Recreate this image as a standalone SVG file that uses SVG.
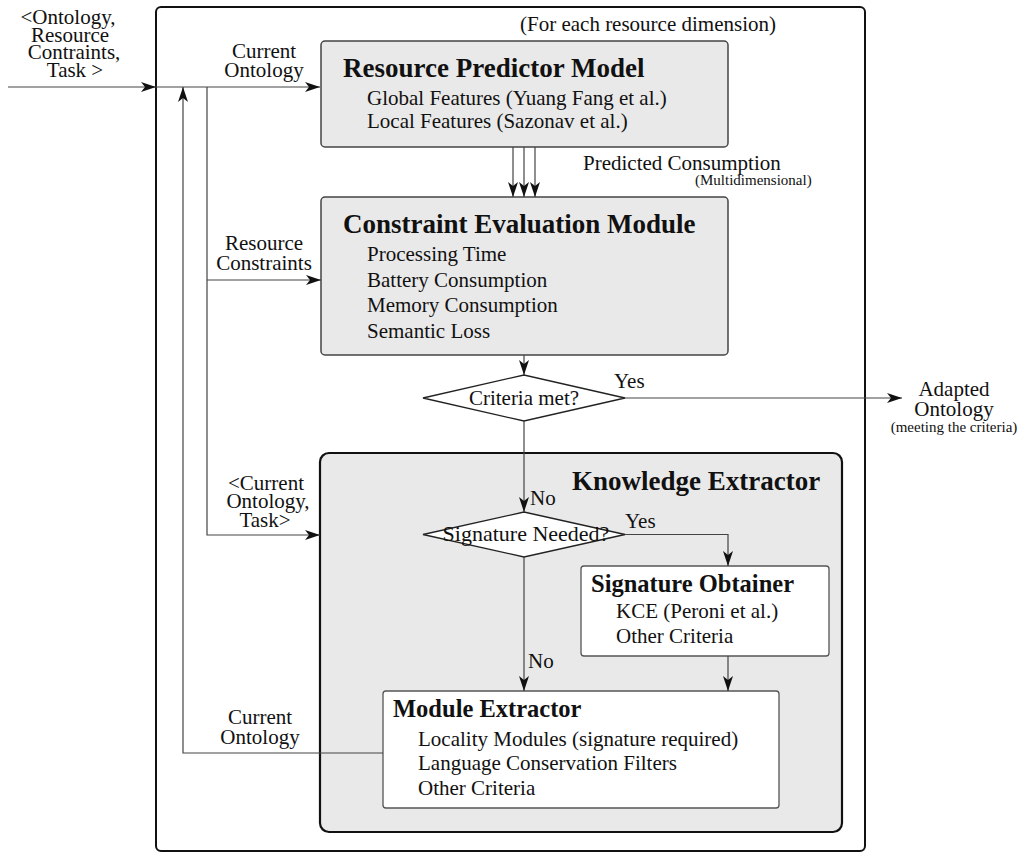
<svg xmlns="http://www.w3.org/2000/svg" width="1023" height="857" viewBox="0 0 1023 857">
<style>
text{font-family:"Liberation Serif","Times New Roman","DejaVu Serif",serif;fill:#111}
.t{font-size:21px}
.b{font-weight:bold;font-size:27px}
.sb{font-weight:bold;font-size:24.5px}
.s{font-size:15px}
.lbl{font-size:21px;text-anchor:middle}
.box{fill:#e9e9e9;stroke:#444;stroke-width:1.5}
.wbox{fill:#fff;stroke:#555;stroke-width:1.3}
.big{fill:#fff;stroke:#111;stroke-width:2}
.ke{fill:#e9e9e9;stroke:#111;stroke-width:2.2}
.dia{fill:#fff;stroke:#222;stroke-width:1.3}
.c{fill:none;stroke:#444;stroke-width:1.2}
.a{marker-end:url(#ah)}
</style>
<defs>
<marker id="ah" markerUnits="userSpaceOnUse" markerWidth="16" markerHeight="12" refX="15" refY="5" orient="auto">
<path d="M0,0 L15,5 L0,10 L4,5 z" fill="#111"/>
</marker>
</defs>
<g id="outer"><rect class="big" x="156" y="7" width="709" height="844" rx="5"/></g>
<text class="t" x="520" y="31">(For each resource dimension)</text>
<g id="rpm">
<rect class="box" x="321" y="41" width="407" height="106" rx="4"/>
<text class="b" x="343" y="77">Resource Predictor Model</text>
<text class="t" x="367" y="105">Global Features (Yuang Fang et al.)</text>
<text class="t" x="367" y="128">Local Features (Sazonav et al.)</text>
</g>
<g id="cem">
<rect class="box" x="321" y="197" width="407" height="158" rx="4"/>
<text class="b" x="343" y="233">Constraint Evaluation Module</text>
<text class="t" x="367" y="261">Processing Time</text>
<text class="t" x="367" y="287">Battery Consumption</text>
<text class="t" x="367" y="312">Memory Consumption</text>
<text class="t" x="367" y="338">Semantic Loss</text>
</g>
<g id="criteria">
<polygon class="dia" points="423,398 524,375 625,398 524,421"/>
<text class="t" x="524" y="405" text-anchor="middle">Criteria met?</text>
</g>
<g id="ke">
<rect class="ke" x="320" y="453" width="522" height="379" rx="9"/>
<text class="b" x="572" y="490">Knowledge Extractor</text>
</g>
<g id="signeeded">
<polygon class="dia" points="423,534.5 524,512 625,534.5 524,557"/>
<text x="526" y="541" text-anchor="middle" style="font-size:22px">Signature Needed?</text>
</g>
<g id="so">
<rect class="wbox" x="581" y="566" width="248" height="90" rx="3"/>
<text class="sb" x="591" y="592">Signature Obtainer</text>
<text class="t" x="616" y="618">KCE (Peroni et al.)</text>
<text class="t" x="616" y="643">Other Criteria</text>
</g>
<g id="me">
<rect class="wbox" x="383" y="691" width="396" height="117" rx="3"/>
<text class="sb" x="393" y="717">Module Extractor</text>
<text class="t" x="418" y="746">Locality Modules (signature required)</text>
<text class="t" x="418" y="770">Language Conservation Filters</text>
<text class="t" x="418" y="795">Other Criteria</text>
</g>
<g id="connectors">
<path class="c a" d="M8,87 H156"/>
<path class="c a" d="M156,87 H320"/>
<path class="c a" d="M383,753 H183 V87"/>
<path class="c a" d="M207,87 V535 H320"/>
<path class="c a" d="M207,280 H321"/>
<path class="c a" d="M513,147 V197"/>
<path class="c a" d="M524,147 V197"/>
<path class="c a" d="M535,147 V197"/>
<path class="c a" d="M524,355 V375"/>
<path class="c a" d="M625,398 H902"/>
<path class="c a" d="M524,421 V512"/>
<path class="c a" d="M625,534.5 H728 V566"/>
<path class="c a" d="M524,557 V691"/>
<path class="c a" d="M728,656 V691"/>
</g>
<g id="labels">
<text class="lbl" x="68" y="24">&lt;Ontology,</text>
<text class="lbl" x="70" y="41.5">Resource</text>
<text class="lbl" x="74" y="59">Contraints,</text>
<text class="lbl" x="75" y="76.5">Task &gt;</text>
<text class="lbl" x="264" y="58">Current</text>
<text class="lbl" x="264" y="77">Ontology</text>
<text class="lbl" x="264" y="250">Resource</text>
<text class="lbl" x="264" y="270">Constraints</text>
<text class="t" x="583" y="170">Predicted Consumption</text>
<text class="s" x="695" y="185">(Multidimensional)</text>
<text class="t" x="614" y="388">Yes</text>
<text class="lbl" x="954" y="396">Adapted</text>
<text class="lbl" x="954" y="416">Ontology</text>
<text class="s" x="954" y="432" text-anchor="middle">(meeting the criteria)</text>
<text class="lbl" x="266" y="490">&lt;Current</text>
<text class="lbl" x="268" y="508">Ontology,</text>
<text class="lbl" x="265" y="527">Task&gt;</text>
<text class="t" x="530" y="505">No</text>
<text class="t" x="625" y="528">Yes</text>
<text class="t" x="528" y="668">No</text>
<text class="lbl" x="260" y="724">Current</text>
<text class="lbl" x="260" y="744">Ontology</text>
</g>
</svg>
